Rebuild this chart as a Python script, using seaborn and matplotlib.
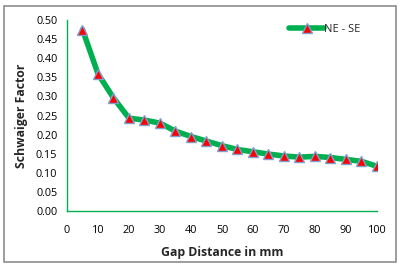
import matplotlib
matplotlib.use("Agg")
import matplotlib.pyplot as plt
import seaborn as sns
import pandas as pd
from matplotlib.patches import Rectangle

gap_mm = [5, 10, 15, 20, 25, 30, 35, 40, 45, 50, 55, 60, 65, 70, 75, 80, 85, 90, 95, 100]
schwaiger = [0.475, 0.359, 0.296, 0.243, 0.238, 0.230, 0.209, 0.195, 0.183, 0.171,
             0.161, 0.155, 0.149, 0.144, 0.141, 0.143, 0.140, 0.135, 0.130, 0.117]
series_name = "NE - SE"
x_ticks = [0, 10, 20, 30, 40, 50, 60, 70, 80, 90, 100]
y_ticks = [0.00, 0.05, 0.10, 0.15, 0.20, 0.25, 0.30, 0.35, 0.40, 0.45, 0.50]

sns.set_theme(style="white")
plt.rcParams['font.family'] = ['Open Sans', 'DejaVu Sans']

df = pd.DataFrame({"gap": gap_mm, "val": schwaiger, "series": series_name})

fig = plt.figure(figsize=(4.02, 2.68), dpi=100)
ax = fig.add_axes([67/402, 1-211/268, 310/402, 191/268])
green = "#00B050"
sns.lineplot(data=df, x="gap", y="val", hue="series", palette=[green], ax=ax,
             linewidth=4, marker="^", markersize=6.5, markerfacecolor="#FF0000",
             markeredgecolor="#7F9FCF", markeredgewidth=1.0)

ax.set_xlim(0, 100)
ax.set_ylim(0, 0.5)
ax.set_xticks(x_ticks)
ax.set_yticks(y_ticks)
ax.set_yticklabels([f"{v:.2f}" for v in y_ticks])
ax.tick_params(axis="both", colors=green, labelcolor="black", direction="out",
               length=4, width=1, labelsize=7.8, pad=3)
ax.tick_params(axis="x", pad=6)
for s in ["top", "right"]:
    ax.spines[s].set_visible(False)
for s in ["left", "bottom"]:
    ax.spines[s].set_color(green)
    ax.spines[s].set_linewidth(1)
ax.set_xlabel("Gap Distance in mm", fontsize=8.8, fontweight="bold", labelpad=7)
ax.set_ylabel("Schwaiger Factor", fontsize=8.8, fontweight="bold", labelpad=6)

leg = ax.legend(loc="upper right", bbox_to_anchor=(0.98, 1.03), frameon=False,
                fontsize=8, handlelength=3.2, handletextpad=0.0)

fig.patches.append(Rectangle((4/402, 6/268), 392/402, 256/268, transform=fig.transFigure,
                             fill=False, edgecolor="#8C8C8C", linewidth=1.2))
fig.savefig("out.png", dpi=100)
